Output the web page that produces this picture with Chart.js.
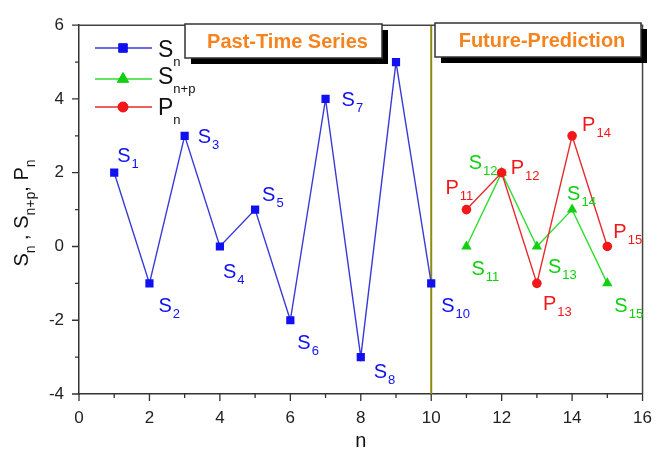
<!DOCTYPE html>
<html>
<head>
<meta charset="utf-8">
<script src="https://cdn.jsdelivr.net/npm/chart.js@4/dist/chart.umd.min.js"></script>
<style>
  html,body{margin:0;padding:0;background:#fff;}
  #wrap{width:666px;height:451px;}
</style>
</head>
<body>
<div id="wrap"><canvas id="c" width="666" height="451"></canvas></div>
<script>
// ---- data ----
const pastN = [1, 2, 3, 4, 5, 6, 7, 8, 9, 10];
const pastS = [2, -1, 3, 0, 1, -2, 4, -3, 5, -1];
const futureN = [11, 12, 13, 14, 15];
const futureS = [0, 2, 0, 1, -1];
const futureP = [1, 2, -1, 3, 0];
const xTickValues = [0, 2, 4, 6, 8, 10, 12, 14, 16];
const yTickValues = [-4, -2, 0, 2, 4, 6];
const splitN = 10;
const pastLabels = ['1','2','3','4','5','6','7','8','','10'];
const futureSLabels = ['11','12','13','14','15'];
const futurePLabels = ['11','12','13','14','15'];
const legendNames = [['S','n'], ['S','n+p'], ['P','n']];
const headerTexts = ['Past-Time Series', 'Future-Prediction'];

// ---- label placement (style) ----
const pastOff = [[3,-11],[9,29],[13,7],[3,32],[7,-9],[7,29],[16,7],[13,21],[0,0],[10,29]];
const futSOff = [[5,29],[-33,-4],[11,27],[-5,-10],[7,29]];
const futPOff = [[-21,-16],[9,1],[6,27],[10,-5],[6,-8]];

const FONT = "'Liberation Sans', Arial, Helvetica, sans-serif";
const BLUE = '#1010f0', BLUE_LINE = '#3a3ad8';
const GREEN = '#10d010', GREEN_LINE = '#30dd30';
const RED = '#f01818', RED_LINE = '#e82a2a';
const OLIVE = '#8c8c10';

function pts(xs, ys){ return xs.map((x,i)=>({x:x, y:ys[i]})); }

function drawSub(ctx, x, y, main, sub, color, mainPx, subPx, subDy, gap){
  ctx.save();
  ctx.fillStyle = color;
  ctx.textAlign = 'left';
  ctx.textBaseline = 'alphabetic';
  ctx.font = mainPx + 'px ' + FONT;
  ctx.fillText(main, x, y);
  const w = ctx.measureText(main).width;
  ctx.font = subPx + 'px ' + FONT;
  ctx.fillText(sub, x + w + gap, y + subDy);
  ctx.restore();
}

const decor = {
  id: 'decor',
  afterDatasetsDraw(chart){
    const ctx = chart.ctx;
    const xs = chart.scales.x, ys = chart.scales.y;
    const a = chart.chartArea;
    // frame top/right
    ctx.save();
    ctx.strokeStyle = '#444';
    ctx.lineWidth = 1.5;
    ctx.beginPath();
    ctx.moveTo(a.left, a.top); ctx.lineTo(a.right, a.top); ctx.lineTo(a.right, a.bottom);
    ctx.stroke();
    // ticks
    ctx.strokeStyle = '#333';
    ctx.lineWidth = 1.3;
    ctx.beginPath();
    for (let v = xs.min; v <= xs.max; v += 1){
      const px = xs.getPixelForValue(v);
      const len = (v % 2 === 0) ? 7 : 4;
      ctx.moveTo(px, a.bottom); ctx.lineTo(px, a.bottom + len);
    }
    for (let v = ys.min; v <= ys.max; v += 1){
      const py = ys.getPixelForValue(v);
      const len = (Math.abs(v) % 2 === 0) ? 7 : 4;
      ctx.moveTo(a.left, py); ctx.lineTo(a.left - len, py);
    }
    ctx.stroke();
    ctx.restore();

    // point labels
    pastN.forEach((n,i)=>{
      if (!pastLabels[i]) return;
      const px = xs.getPixelForValue(n), py = ys.getPixelForValue(pastS[i]);
      drawSub(ctx, px + pastOff[i][0], py + pastOff[i][1], 'S', pastLabels[i], BLUE, 20, 13, 6, 1);
    });
    futureN.forEach((n,i)=>{
      const px = xs.getPixelForValue(n);
      drawSub(ctx, px + futSOff[i][0], ys.getPixelForValue(futureS[i]) + futSOff[i][1], 'S', futureSLabels[i], GREEN, 20, 13, 6, 1);
      drawSub(ctx, px + futPOff[i][0], ys.getPixelForValue(futureP[i]) + futPOff[i][1], 'P', futurePLabels[i], RED, 20, 13, 6, 1);
    });

    // legend
    const legRows = [
      {ly: 48, by: 57, color: BLUE, line: BLUE_LINE, style: 'rect', r: 6},
      {ly: 79, by: 84, color: GREEN, line: GREEN_LINE, style: 'triangle', r: 6.5},
      {ly: 107, by: 115, color: RED, line: RED_LINE, style: 'circle', r: 5}
    ];
    legRows.forEach((row, i)=>{
      ctx.save();
      ctx.strokeStyle = row.line; ctx.lineWidth = 1.5;
      ctx.beginPath(); ctx.moveTo(95, row.ly); ctx.lineTo(152, row.ly); ctx.stroke();
      ctx.fillStyle = row.color; ctx.strokeStyle = row.color; ctx.lineWidth = 1;
      Chart.helpers.drawPoint(ctx, {pointStyle: row.style, radius: row.r, borderWidth: 1, rotation: 0}, 123, row.ly);
      ctx.fill();
      ctx.restore();
      drawSub(ctx, 158, row.by, legendNames[i][0], legendNames[i][1], '#111', 23, 13, 9, 0);
    });

    // header boxes
    const boxes = [
      {x: 185, y: 24, w: 197, h: 34, text: headerTexts[0]},
      {x: 435, y: 23, w: 206, h: 34, text: headerTexts[1]}
    ];
    boxes.forEach(b=>{
      ctx.save();
      ctx.fillStyle = '#000';
      ctx.fillRect(b.x + 6, b.y + 6, b.w, b.h);
      ctx.fillStyle = '#fff';
      ctx.fillRect(b.x, b.y, b.w, b.h);
      ctx.strokeStyle = '#333'; ctx.lineWidth = 1.5;
      ctx.strokeRect(b.x, b.y, b.w, b.h);
      ctx.fillStyle = '#f5841f';
      ctx.font = 'bold 20px ' + FONT;
      ctx.textAlign = 'center'; ctx.textBaseline = 'middle';
      ctx.fillText(b.text, b.x + b.w/2 + 4, b.y + b.h/2 + 1);
      ctx.restore();
    });

    // axis titles
    ctx.save();
    ctx.fillStyle = '#111';
    ctx.font = '20px ' + FONT;
    ctx.textAlign = 'center'; ctx.textBaseline = 'alphabetic';
    ctx.fillText('n', (a.left + a.right)/2, 447);
    ctx.restore();

    ctx.save();
    ctx.translate(28, 213);
    ctx.rotate(-Math.PI/2);
    const parts = [['S',0],['n',1],[' , ',0],['S',0],['n+p',1],[', ',0],['P',0],['n',1]];
    let total = 0;
    parts.forEach(p=>{ ctx.font = (p[1] ? 14 : 20) + 'px ' + FONT; total += ctx.measureText(p[0]).width; });
    let cx = -total/2;
    ctx.fillStyle = '#111';
    ctx.textAlign = 'left'; ctx.textBaseline = 'alphabetic';
    parts.forEach(p=>{
      ctx.font = (p[1] ? 14 : 20) + 'px ' + FONT;
      ctx.fillText(p[0], cx, p[1] ? 7 : 0);
      cx += ctx.measureText(p[0]).width;
    });
    ctx.restore();
  }
};

new Chart(document.getElementById('c'), {
  type: 'scatter',
  data: {
    datasets: [
      {
        label: 'split', data: [{x: splitN, y: -4}, {x: splitN, y: 6}],
        showLine: true, borderColor: OLIVE, borderWidth: 2, pointRadius: 0, order: 10
      },
      {
        label: 'Sn', data: pts(pastN, pastS), showLine: true,
        borderColor: BLUE_LINE, borderWidth: 1.4, pointStyle: 'rect', pointRadius: 5.8,
        pointBackgroundColor: BLUE, pointBorderColor: BLUE, pointBorderWidth: 0, order: 1
      },
      {
        label: 'Sn+p', data: pts(futureN, futureS), showLine: true,
        borderColor: GREEN_LINE, borderWidth: 1.4, pointStyle: 'triangle', pointRadius: 6,
        pointBackgroundColor: GREEN, pointBorderColor: GREEN, pointBorderWidth: 0, order: 2
      },
      {
        label: 'Pn', data: pts(futureN, futureP), showLine: true,
        borderColor: RED_LINE, borderWidth: 1.4, pointStyle: 'circle', pointRadius: 4.8,
        pointBackgroundColor: RED, pointBorderColor: RED, pointBorderWidth: 0, order: 0
      }
    ]
  },
  options: {
    responsive: false,
    animation: false,
    events: [],
    layout: { padding: { top: 18, right: 23, left: 0, bottom: 0 } },
    plugins: { legend: { display: false }, tooltip: { enabled: false } },
    scales: {
      x: {
        type: 'linear', min: 0, max: 16,
        afterFit: s => { s.height = 57; },
        afterBuildTicks: s => { s.ticks = xTickValues.map(v => ({value: v})); },
        grid: { display: false, drawTicks: false },
        border: { display: true, color: '#333', width: 1.5 },
        ticks: { color: '#222', font: { size: 17, family: FONT }, padding: 14, maxRotation: 0, autoSkip: false }
      },
      y: {
        type: 'linear', min: -4, max: 6,
        afterFit: s => { s.width = 79; },
        afterBuildTicks: s => { s.ticks = yTickValues.map(v => ({value: v})); },
        grid: { display: false, drawTicks: false },
        border: { display: true, color: '#333', width: 1.5 },
        ticks: { color: '#222', font: { size: 17, family: FONT }, padding: 15, autoSkip: false }
      }
    }
  },
  plugins: [decor]
});
</script>
</body>
</html>
